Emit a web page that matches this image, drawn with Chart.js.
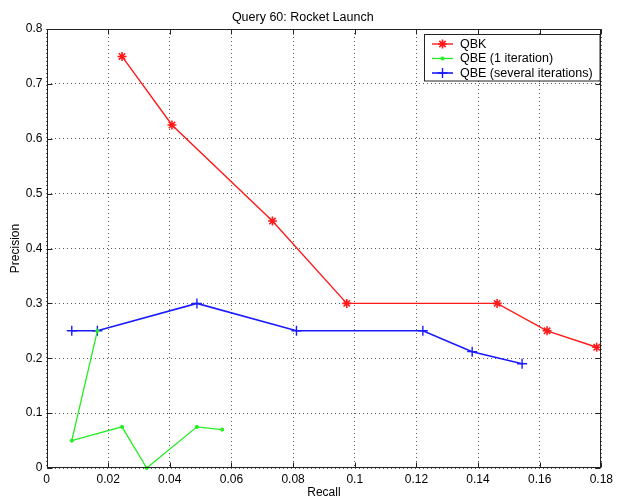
<!DOCTYPE html>
<html>
<head>
<meta charset="utf-8">
<script src="https://cdn.jsdelivr.net/npm/chart.js@4/dist/chart.umd.min.js"></script>
<style>
html,body{margin:0;padding:0;background:#fff;}
canvas{display:block;}
</style>
</head>
<body>
<canvas id="c" width="617" height="501"></canvas>
<script>
const chartTitle = 'Query 60: Rocket Launch';
const xTitle = 'Recall';
const yTitle = 'Precision';
const seriesNames = ['QBK', 'QBE (1 iteration)', 'QBE (several iterations)'];
const xTickLabels = ['0','0.02','0.04','0.06','0.08','0.1','0.12','0.14','0.16','0.18'];
const yTickLabels = ['0','0.1','0.2','0.3','0.4','0.5','0.6','0.7','0.8'];

const qbkRecall    = [0.0245, 0.0407, 0.0733, 0.0974, 0.1462, 0.1624, 0.1785];
const qbkPrecision = [0.75, 0.625, 0.45, 0.30, 0.30, 0.25, 0.22];

const qbe1Recall    = [0.0165, 0.0082, 0.0245, 0.0325, 0.0488, 0.0570];
const qbe1Precision = [0.25, 0.05, 0.075, 0.0, 0.075, 0.07];

const qbeSRecall    = [0.0082, 0.0165, 0.0488, 0.0811, 0.1221, 0.1381, 0.1543];
const qbeSPrecision = [0.25, 0.25, 0.30, 0.25, 0.25, 0.212, 0.19];

const toPts = (xs, ys) => xs.map((x, i) => ({x: x, y: ys[i]}));

const FONT = 'Liberation Sans, Arial, Helvetica, sans-serif';

const styles = [
  {color: '#ff1a1a', pointStyle: 'star', radius: 4.5, pbw: 1.6, lw: 1.4},
  {color: '#22ee22', pointStyle: 'circle', radius: 1.6, pbw: 1, lw: 1.3},
  {color: '#1a1aff', pointStyle: 'cross', radius: 5, pbw: 1.4, lw: 1.6}
];

const datasets = [toPts(qbkRecall, qbkPrecision), toPts(qbe1Recall, qbe1Precision), toPts(qbeSRecall, qbeSPrecision)]
  .map((d, i) => ({
    label: seriesNames[i],
    data: d,
    showLine: true,
    borderColor: styles[i].color,
    backgroundColor: styles[i].color,
    borderWidth: styles[i].lw,
    pointStyle: styles[i].pointStyle,
    pointRadius: styles[i].radius,
    pointBorderWidth: styles[i].pbw,
    pointBorderColor: styles[i].color,
    pointBackgroundColor: styles[i].color,
    tension: 0,
    clip: 4
  }));

const boxPlugin = {
  id: 'boxTicks',
  afterDatasetsDraw(chart) {
    const {ctx, chartArea: a, scales} = chart;
    ctx.save();
    ctx.strokeStyle = '#222';
    ctx.lineWidth = 1;
    ctx.setLineDash([]);
    const L = Math.round(a.left) + 0.5, R = Math.round(a.right) - 0.5;
    const T = Math.round(a.top) + 0.5, B = Math.round(a.bottom) - 0.5;
    ctx.strokeRect(L, T, R - L, B - T);
    const tl = 5;
    ctx.beginPath();
    scales.x.ticks.forEach(t => {
      const x = Math.round(scales.x.getPixelForValue(t.value)) + 0.5;
      ctx.moveTo(x, B); ctx.lineTo(x, B - tl);
      ctx.moveTo(x, T); ctx.lineTo(x, T + tl);
    });
    scales.y.ticks.forEach(t => {
      const y = Math.round(scales.y.getPixelForValue(t.value)) + 0.5;
      ctx.moveTo(L, y); ctx.lineTo(L + tl, y);
      ctx.moveTo(R, y); ctx.lineTo(R - tl, y);
    });
    ctx.stroke();
    ctx.restore();
  },
  afterDraw(chart) {
    const {ctx} = chart;
    ctx.save();
    const bx = 424.5, by = 34.5, bw = 175.5, bh = 46.5;
    ctx.fillStyle = '#fff';
    ctx.fillRect(bx, by, bw, bh);
    ctx.strokeStyle = '#222';
    ctx.lineWidth = 1;
    ctx.strokeRect(bx, by, bw, bh);
    const rows = [44, 58.5, 73];
    chart.data.datasets.forEach((ds, i) => {
      const y = rows[i];
      ctx.strokeStyle = ds.borderColor;
      ctx.lineWidth = ds.borderWidth;
      ctx.beginPath();
      ctx.moveTo(432, y); ctx.lineTo(453, y);
      ctx.stroke();
      ctx.fillStyle = ds.pointBackgroundColor;
      ctx.strokeStyle = ds.pointBorderColor;
      ctx.lineWidth = ds.pointBorderWidth;
      Chart.helpers.drawPoint(ctx, {pointStyle: ds.pointStyle, radius: ds.pointRadius, borderWidth: ds.pointBorderWidth, rotation: 0}, 442.5, y);
      ctx.fillStyle = '#000';
      ctx.font = '12.5px ' + FONT;
      ctx.textBaseline = 'middle';
      ctx.textAlign = 'left';
      ctx.fillText(ds.label, 460, y + 0.5);
    });
    ctx.restore();
  }
};

new Chart(document.getElementById('c'), {
  type: 'scatter',
  data: {datasets: datasets},
  plugins: [boxPlugin],
  options: {
    responsive: false,
    animation: false,
    devicePixelRatio: 1,
    layout: {padding: {left: 0, right: 11.5, top: 0, bottom: 0}},
    plugins: {
      legend: {display: false},
      tooltip: {enabled: false},
      title: {
        display: true,
        text: chartTitle,
        color: '#000',
        font: {family: FONT, size: 12.5, weight: 'normal'},
        padding: {top: 10, bottom: 4}
      }
    },
    scales: {
      x: {
        type: 'linear',
        min: 0, max: 0.18,
        afterFit(s) { s.height = 33; },
        afterBuildTicks(s) { s.ticks = xTickLabels.map(v => ({value: parseFloat(v)})); },
        ticks: {
          color: '#000',
          font: {family: FONT, size: 12},
          padding: 4,
          maxRotation: 0,
          autoSkip: false,
          callback: (v, i) => xTickLabels[i]
        },
        grid: {color: '#555', lineWidth: 1, drawTicks: false},
        border: {display: false, dash: [1, 3]},
        title: {display: true, text: xTitle, color: '#000', font: {family: FONT, size: 12}, padding: 1}
      },
      y: {
        type: 'linear',
        min: 0, max: 0.8,
        afterFit(s) { s.width = 46.5; },
        afterBuildTicks(s) { s.ticks = yTickLabels.map(v => ({value: parseFloat(v)})); },
        ticks: {
          color: '#000',
          font: {family: FONT, size: 12},
          padding: 4,
          autoSkip: false,
          callback: (v, i) => yTickLabels[i]
        },
        grid: {color: '#555', lineWidth: 1, drawTicks: false},
        border: {display: false, dash: [1, 3]},
        title: {display: true, text: yTitle, color: '#000', font: {family: FONT, size: 12}, padding: 8}
      }
    }
  }
});
</script>
</body>
</html>
